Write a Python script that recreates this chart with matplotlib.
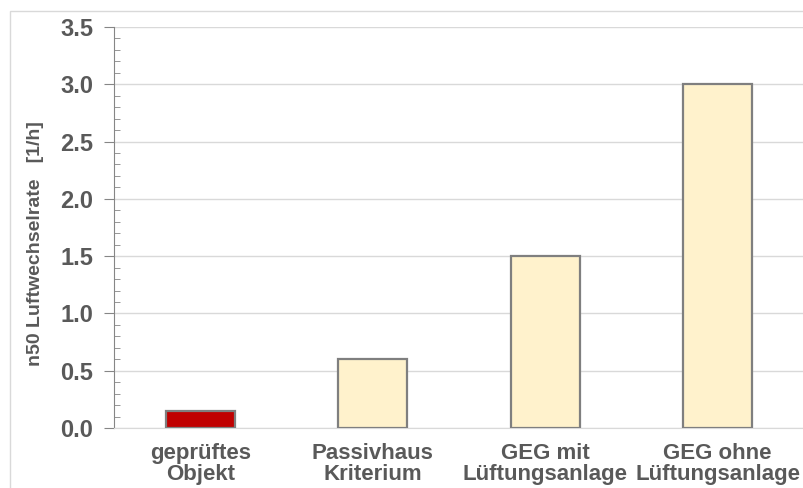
import numpy as np
import matplotlib.pyplot as plt
from matplotlib.patches import Rectangle
from matplotlib.ticker import MultipleLocator

plt.rcParams['font.family'] = ['Liberation Sans', 'DejaVu Sans']

categories = ['geprüftes\nObjekt', 'Passivhaus\nKriterium',
              'GEG mit\nLüftungsanlage', 'GEG ohne\nLüftungsanlage']
values = [0.15, 0.6, 1.5, 3.0]
bar_colors = ['#c00000', '#fff2cc', '#fff2cc', '#fff2cc']

txt = '#595959'

fig = plt.figure(figsize=(8.04, 4.88), dpi=100)
ax = fig.add_axes([114/804, 1 - 428/488, 1 - 114/804, (428 - 27)/488])

# outer chart frame
fig.patches.append(Rectangle((10/804, -0.01), 1.0, 1 - 11/488 + 0.01,
                             transform=fig.transFigure, fill=False,
                             edgecolor='#d9d9d9', lw=1.0))

x = np.arange(len(categories))
ax.bar(x, values, width=0.4, color=bar_colors, edgecolor='#7f7f7f',
       linewidth=1.6, zorder=3)

ax.set_xlim(-0.5, 3.5)
ax.set_ylim(0, 3.5)
ax.yaxis.set_major_locator(MultipleLocator(0.5))
ax.yaxis.set_minor_locator(MultipleLocator(0.1))
ax.yaxis.set_major_formatter(lambda v, p: '{:.1f}'.format(v))
ax.grid(axis='y', which='major', color='#d9d9d9', lw=1.0, zorder=0)

for s in ['top', 'right']:
    ax.spines[s].set_visible(False)
ax.spines['left'].set_color('#868686')
ax.spines['bottom'].set_color('#d9d9d9')

ax.tick_params(axis='y', which='major', direction='out', length=7,
               color='#868686', labelsize=17, labelcolor=txt, pad=8)
ax.tick_params(axis='y', which='minor', direction='in', length=4,
               color='#868686')
ax.tick_params(axis='x', length=0, labelsize=16, labelcolor=txt, pad=11)
for lab in ax.get_yticklabels():
    lab.set_fontweight('bold')

ax.set_xticks(x)
ax.set_xticklabels(categories, fontweight='bold', linespacing=1.0)

ax.set_ylabel('n50 Luftwechselrate   [1/h]', fontsize=14,
              fontweight='bold', color=txt)
ax.yaxis.set_label_coords(44/804, 0.5, transform=fig.transFigure)

plt.savefig('out.png', dpi=100)
plt.close()
